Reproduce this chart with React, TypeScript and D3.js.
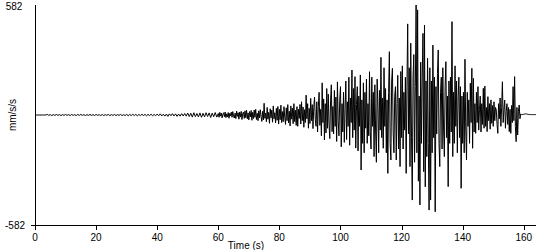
import React from "react";
import * as d3 from "d3";

// Quiet pre-event part: 0–60 s, sampled every 0.5 s
const quietStart = 0;
const quietInterval = 0.5;
const quietPart: number[] = [
  // 0-10 s
  0, 0, 0, 0, 0, 0, 0, 0, 3, -2, 2, -3, 2, -2, 3, -2, 2, -3, 2, -2,
  // 10-20
  3, -2, 2, -3, 3, -2, 2, -3, 3, -2, 3, -2, 2, -3, 2, -2, 3, -2, 2, -3,
  // 20-30
  3, -2, 2, -3, 3, -3, 2, -2, 3, -3, 2, -2, 3, -3, 2, -2, 3, -3, 2, -3,
  // 30-40
  3, -4, 3, -3, 4, -3, 3, -4, 3, -3, 4, -3, 3, -4, 3, -3, 4, -4, 3, -4,
  // 40-50
  5, -4, 6, -5, 4, -6, 5, -7, 6, -4, 7, -5, 6, -7, 5, -6, 7, -5, 8, -6,
  // 50-60
  10, -8, 9, -11, 12, -9, 8, -10, 11, -12, 9, -10, 12, -8, 11, -13, 10, -9, 13, -11,
];

// Strong-motion part: 60–164 s, sampled every 0.25 s
const strongStart = 60;
const strongInterval = 0.25;
const strongPart: number[] = [
  // 60-70
  8, -12, 14, -6, 10, -15, 4, 12, -9, 16, -14, 6, -10, 13, -17, 9, -5, 15, -12, 18,
  -8, -16, 10, -19, 20, -7, 12, -22, 15, -11, 19, -24, 8, 16, -18, 22, -14, 25, -20, 11,
  // 70-80
  -26, 18, -10, 24, -28, 14, -19, 26, -12, 30, -24, 9, -30, 22, -16, 28, -8, -34, 20, -26,
  62, -18, 10, -36, 40, -22, 14, -44, 33, -15, 26, -38, 48, -20, 12, -42, 35, -28, 45, -48,
  // 80-90
  30, -25, 52, -40, 18, -35, 44, -12, -50, 38, -30, 55, -42, 20, -58, 48, -22, 36, -46, 60,
  -35, 25, -55, 44, -60, 30, -18, 56, -48, 70, -30, 42, -65, 28, -40, 105, -20, 60, -70, 35,
  // 90-100
  -45, 88, -30, 55, -72, 40, 95, -25, -60, 70, -90, 45, 120, -55, 30, -110, 170, -40, 85, -132,
  60, -95, 140, -70, 110, -50, -125, 75, 160, -88, 45, -100, 130, -60, 95, -140, 175, -30, -110, 80,
  // 100-110
  150, -168, 60, -90, 120, -145, 35, 180, -130, 70, -60, 200, -160, 90, -40, 238, -120, 140, -80, 203,
  -175, 55, 150, -190, 100, -60, 212, -291, 80, -150, 170, -200, 120, -70, 190, -150, 60, -110, 229, -95,
  // 110-120
  -180, 200, -60, 120, -220, 160, -90, -250, 190, 40, -200, 130, -80, 305, -120, 90, -176, 250, -60, 140,
  -200, 80, -309, 120, 335, -150, -238, 180, 247, -90, -200, 100, 150, -238, 60, 210, -180, 90, -273, 230,
  // 120-130
  -120, 260, -180, 120, -80, 200, -309, 150, 482, -100, 250, -273, 380, -120, -450, 200, 320, -250, 150, 582,
  -200, 556, -350, 100, -476, 280, -150, 200, 432, -300, 476, -380, 180, -220, 300, -150, -503, 250, -450, 180,
  // 130-140
  -200, 370, -120, 200, -512, 150, -100, 220, 344, -150, -273, 120, 200, -180, 250, -80, -220, 150, 282, -120,
  100, -379, 180, -150, 200, -90, 494, -220, 120, -150, 260, -60, 180, -200, 90, 200, -120, 150, -388, 100,
  // 140-150
  -150, 120, -200, 295, -80, -238, 120, -60, 80, -150, 168, -40, 247, -176, 194, -90, 60, -97, 120, -40,
  150, -80, 30, 100, -90, 60, -50, 141, -70, 153, -60, 40, -88, 97, -30, 60, -75, 80, -44, 50,
  // 150-160
  -60, 70, -30, 40, 26, -50, -97, 60, -20, 90, -60, 40, 176, -40, 30, 79, -70, 20, 60, -50,
  40, -88, 30, -97, 50, -40, 150, -30, 203, -60, -141, 40, -106, 20, 53, -20, 5, 3, 2, 3,
  // 160-164
  4, 5, 6, 6, 5, 4, 3, 3, 2, 2, 2, 2, 2, 2, 2, 2, 2,
];

const xTicks = [0, 20, 40, 60, 80, 100, 120, 140, 160];
const yLimit = 582;
const xLabel = "Time (s)";
const yLabel = "mm/s/s";

export default function App() {
  const width = 550;
  const height = 250;
  const x = d3.scaleLinear().domain([0, 164]).range([35, 536]);
  const y = d3.scaleLinear().domain([-yLimit, yLimit]).range([225, 5]);

  const points: [number, number][] = [
    ...quietPart.map((v, i) => [quietStart + i * quietInterval, v] as [number, number]),
    ...strongPart.map((v, i) => [strongStart + i * strongInterval, v] as [number, number]),
  ];
  const line = d3
    .line<[number, number]>()
    .x((d) => x(d[0]))
    .y((d) => y(d[1]));
  const font = "'Liberation Sans', Arial, sans-serif";
  return (
    <svg
      width={width}
      height={height}
      style={{ position: "absolute", left: 0, top: 0, background: "#fff" }}
      fontFamily={font}
      fontSize={10}
    >
      <rect width={width} height={height} fill="#fff" />
      <path d={line(points) || ""} fill="none" stroke="#000" strokeWidth={1} />
      {/* axes */}
      <line x1={35.5} x2={35.5} y1={y(yLimit)} y2={y(-yLimit) + 0.5} stroke="#000" />
      <line x1={31} x2={x(164)} y1={y(-yLimit) + 0.5} y2={y(-yLimit) + 0.5} stroke="#000" />
      {xTicks.map((t) => (
        <g key={t}>
          <line x1={Math.round(x(t)) + 0.5} x2={Math.round(x(t)) + 0.5} y1={225} y2={230} stroke="#000" />
          <text x={x(t)} y={241} textAnchor="middle" fill="#000">
            {t}
          </text>
        </g>
      ))}
      <text x={14} y={10} textAnchor="middle" fill="#000">
        {yLimit}
      </text>
      <text x={15} y={229} textAnchor="middle" fill="#000">
        {-yLimit}
      </text>
      <text x={246} y={249} textAnchor="middle" fill="#000">
        {xLabel}
      </text>
      <text
        transform={`translate(16,${y(0)}) rotate(-90)`}
        textAnchor="middle"
        fill="#000"
      >
        {yLabel}
      </text>
    </svg>
  );
}
